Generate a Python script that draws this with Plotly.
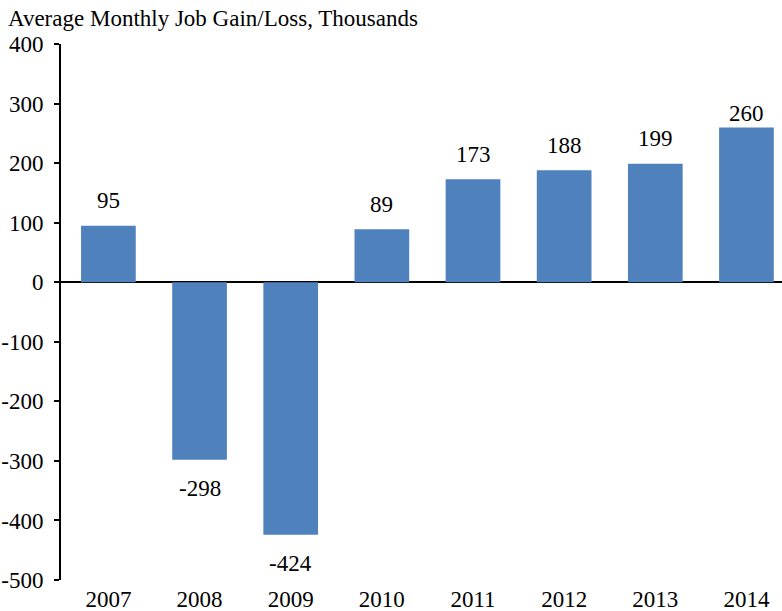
import plotly.graph_objects as go

years = ["2007", "2008", "2009", "2010", "2011", "2012", "2013", "2014"]
values = [95, -298, -424, 89, 173, 188, 199, 260]
y_ticks = [-500, -400, -300, -200, -100, 0, 100, 200, 300, 400]
y_tick_text = ["-500", "-400", "-300", "-200", "-100", "0", "100", "200", "300", "400"]
title_text = "Average Monthly Job Gain/Loss, Thousands"

FONT = "Liberation Serif, Times New Roman, serif"
BAR = "#4F81BD"
FS = 23

fig = go.Figure()
fig.add_trace(go.Bar(x=list(range(len(years))), y=values,
                     marker=dict(color=BAR, line=dict(width=0)),
                     width=0.6, hovertext=years, hoverinfo="text+y"))

for i, v in enumerate(values):
    label = str(v)
    if v >= 0:
        fig.add_annotation(x=i, y=min(v + 42, 284), text=label, showarrow=False,
                           yanchor="middle", font=dict(family=FONT, size=FS, color="black"))
    else:
        fig.add_annotation(x=i, y=v, yshift=-29, text=label, showarrow=False,
                           yanchor="middle", font=dict(family=FONT, size=FS, color="black"))

fig.update_layout(
    width=782, height=611,
    margin=dict(l=61, r=0, t=44, b=31, autoexpand=False),
    paper_bgcolor="white", plot_bgcolor="white",
    showlegend=False,
    font=dict(family=FONT, size=FS, color="black"),
    title=dict(text=title_text, x=8 / 782, xanchor="left", xref="container",
               y=1 - 18 / 611, yanchor="middle", yref="container",
               font=dict(family=FONT, size=FS, color="black")),
    xaxis=dict(range=[-0.52, 7.39], showgrid=False, showline=False, ticks="",
               tickmode="array", tickvals=list(range(len(years))), ticktext=years,
               zeroline=False, automargin=False, ticklabelstandoff=3,
               tickfont=dict(family=FONT, size=FS)),
    yaxis=dict(range=[-500, 400], tickmode="array", tickvals=y_ticks, ticktext=y_tick_text,
               showgrid=False, automargin=False,
               showline=True, linecolor="black", linewidth=2,
               ticks="outside", ticklen=5, tickwidth=2, tickcolor="black",
               zeroline=True, zerolinecolor="black", zerolinewidth=2,
               ticklabelstandoff=6, tickfont=dict(family=FONT, size=FS)),
)

fig.write_html("out.html", config={"displayModeBar": False},
               post_script="document.body.style.margin='0';")
